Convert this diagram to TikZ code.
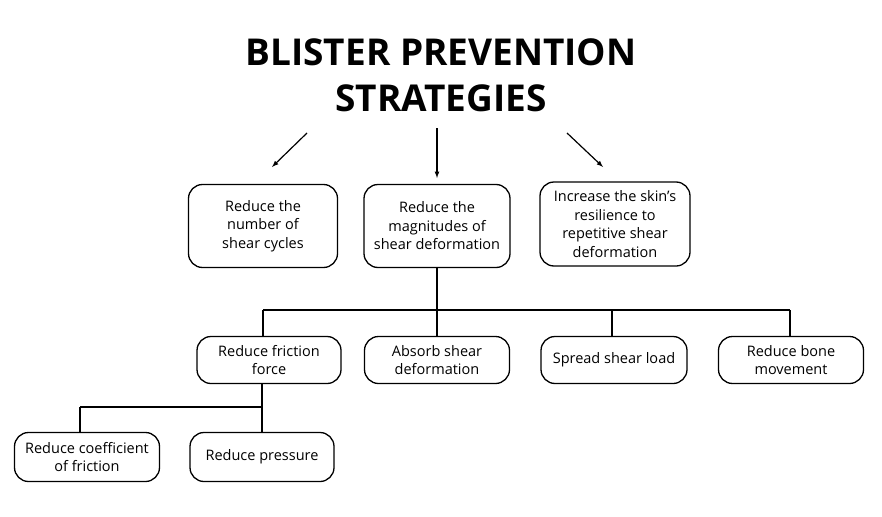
\documentclass[tikz,border=0pt]{standalone}
\usepackage{fontspec}
\setmainfont{Open Sans}
\begin{document}
\begin{tikzpicture}[x=1pt,y=-1pt,
 box/.style={draw,line width=1.3pt,rounded corners=14pt,align=center,font=\fontsize{14.5}{18.5}\selectfont,inner sep=0pt},
 ln/.style={line width=1.2pt},
 ar/.style={line width=1.2pt,-latex}]
\useasboundingbox (0,0) rectangle (882,516);
\node[font=\bfseries\fontsize{37}{46}\selectfont,align=center] (t) at (441,75) {BLISTER PREVENTION\\STRATEGIES};
\node[box,minimum width=149pt,minimum height=83pt] (b1) at (263,226) {Reduce the\\number of\\shear cycles};
\node[box,minimum width=146pt,minimum height=83pt] (b2) at (437,226) {Reduce the\\magnitudes of\\shear deformation};
\node[box,minimum width=150pt,minimum height=84pt] (b3) at (615,224) {Increase the skin's\\resilience to\\repetitive shear\\deformation};
\node[box,minimum width=144pt,minimum height=47pt] (a) at (269,360) {Reduce friction\\force};
\node[box,minimum width=145pt,minimum height=47pt] (b) at (437,360) {Absorb shear\\deformation};
\node[box,minimum width=146pt,minimum height=47pt] (c) at (614,360) {Spread shear load};
\node[box,minimum width=145pt,minimum height=47pt] (d) at (791,360) {Reduce bone\\movement};
\node[box,minimum width=145pt,minimum height=49pt] (e) at (87,457) {Reduce coefficient\\of friction};
\node[box,minimum width=144pt,minimum height=49pt] (f) at (262,457) {Reduce pressure};
\coordinate (l1) at (307,133); \coordinate (l2) at (272,167);
\coordinate (m1) at (437,128); \coordinate (m2) at (437,178);
\coordinate (r1) at (567,133); \coordinate (r2) at (603,167);
\draw[ar] (l1) -- (l2);
\draw[ar] (m1) -- (m2);
\draw[ar] (r1) -- (r2);
\draw[ln] (b2.south) -- (b.north);
\draw[ln] (263,310) -- (790,310);
\draw[ln] (263,310) -- (263,337);
\draw[ln] (612,310) -- (612,337);
\draw[ln] (790,310) -- (790,337);
\draw[ln] (262,384) -- (f.north);
\draw[ln] (80,407) -- (262,407);
\draw[ln] (80,407) -- (80,433);
\end{tikzpicture}
\end{document}
